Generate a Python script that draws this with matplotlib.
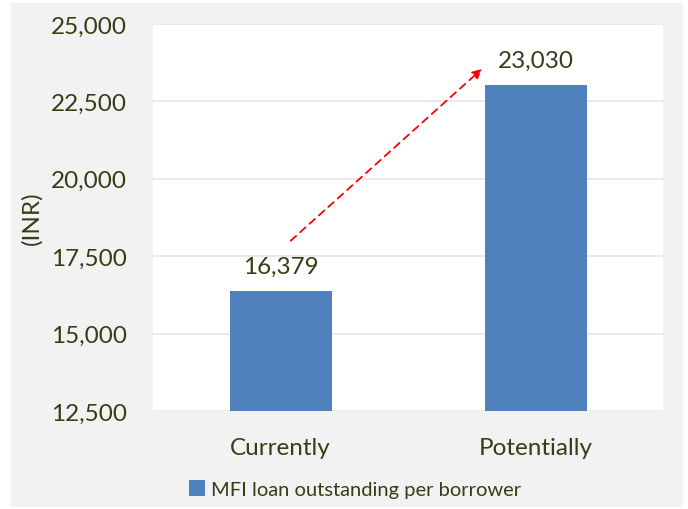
import matplotlib
matplotlib.use("Agg")
import matplotlib.pyplot as plt
from matplotlib.patches import Rectangle

categories = ["Currently", "Potentially"]
loan_values = [16379, 23030]
series_name = "MFI loan outstanding per borrower"
y_ticks = [12500, 15000, 17500, 20000, 22500, 25000]
y_label = "(INR)"

text_color = "#3b3b16"
bar_color = "#4f81bd"
plt.rcParams["font.family"] = ["Lato", "DejaVu Sans"]

fig = plt.figure(figsize=(6.88, 5.10), dpi=100)
fig.patch.set_facecolor("white")
# grey chart frame
fig.add_artist(Rectangle((11 / 688, 1 - 508 / 510), 672 / 688, 504 / 510,
                         transform=fig.transFigure, facecolor="#f2f2f2",
                         edgecolor="none", zorder=0))

ax = fig.add_axes([153 / 688, 1 - 412 / 510, 510 / 688, 387 / 510])
ax.set_facecolor("white")
x = range(len(categories))
bars = ax.bar(x, loan_values, width=0.4, color=bar_color, zorder=3,
              label=series_name)
ax.set_xlim(-0.5, 1.5)
ax.set_ylim(y_ticks[0], y_ticks[-1])
ax.set_yticks(y_ticks)
ax.set_yticklabels([f"{v:,}" for v in y_ticks])
ax.set_xticks(list(x))
ax.set_xticklabels(categories)
ax.tick_params(axis="both", length=0, labelsize=17.5, colors=text_color)
ax.tick_params(axis="y", pad=19)
ax.tick_params(axis="x", pad=19)
ax.grid(axis="y", color="#e6e6e6", linewidth=1.2, zorder=0)
for s in ax.spines.values():
    s.set_visible(False)

for xi, v in zip(x, loan_values):
    ax.annotate(f"{v:,}", (xi, v), xytext=(0, 10), textcoords="offset points",
                ha="center", va="bottom", fontsize=17.5, color=text_color)

ax.annotate("", xy=(0.79, 23550), xytext=(0.04, 18000),
            arrowprops=dict(arrowstyle="-|>", color="red", linestyle=(0, (4, 3)),
                            linewidth=1.3, mutation_scale=14, shrinkA=0, shrinkB=0),
            zorder=4)

ax.set_ylabel(y_label, fontsize=17.5, color=text_color)
ax.yaxis.set_label_coords(-0.216, 0.5)

leg = fig.legend(handles=[bars], labels=[series_name], loc="center",
                 bbox_to_anchor=(355 / 688, 1 - 490 / 510), frameon=False,
                 fontsize=14.5, handlelength=0.8, handleheight=0.8,
                 handletextpad=0.3)
for t in leg.get_texts():
    t.set_color(text_color)

fig.savefig("out.png", dpi=100)
